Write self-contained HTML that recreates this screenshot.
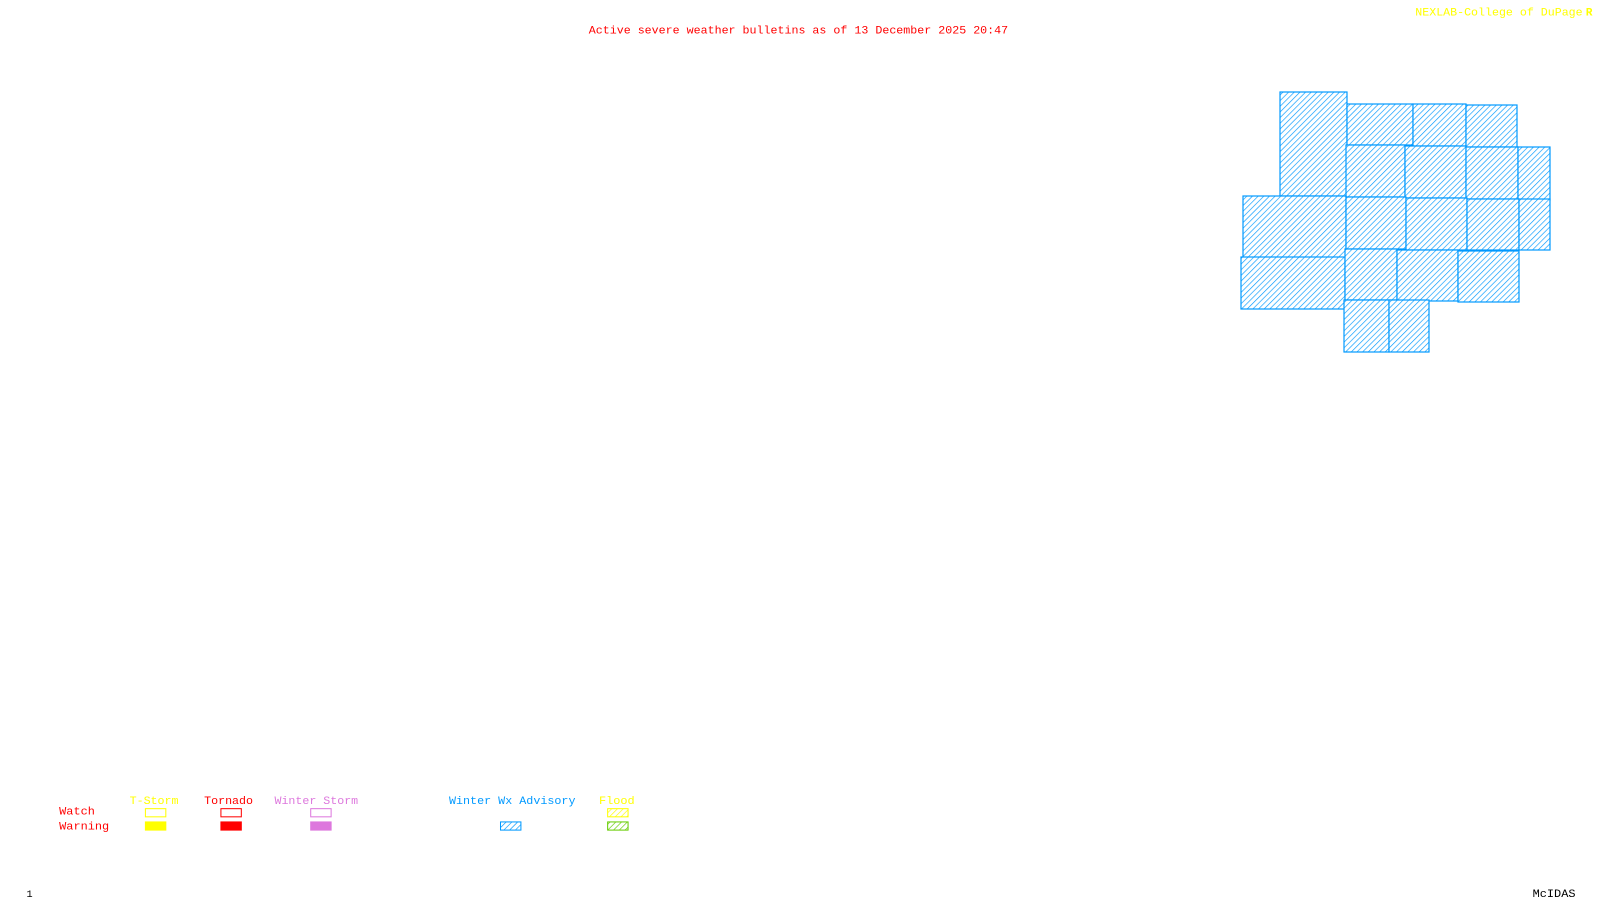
<!DOCTYPE html>
<html><head><meta charset="utf-8"><style>html,body{margin:0;padding:0;background:#fff;width:1600px;height:900px;overflow:hidden}</style></head>
<body>
<svg width="1600" height="900" viewBox="0 0 1600 900" xmlns="http://www.w3.org/2000/svg">
<defs>
<pattern id="hb" width="4" height="4" patternUnits="userSpaceOnUse" patternTransform="rotate(45)"><rect width="4" height="4" fill="#fff"/><line x1="0" y1="0" x2="0" y2="4" stroke="#0099ff" stroke-width="1.3"/></pattern>
<pattern id="hy" width="4" height="4" patternUnits="userSpaceOnUse" patternTransform="rotate(45)"><rect width="4" height="4" fill="#fff"/><line x1="0" y1="0" x2="0" y2="4" stroke="#ffff00" stroke-width="1.3"/></pattern>
<pattern id="hg" width="4" height="4" patternUnits="userSpaceOnUse" patternTransform="rotate(45)"><rect width="4" height="4" fill="#fff"/><line x1="0" y1="0" x2="0" y2="4" stroke="#66cc00" stroke-width="1.3"/></pattern>
</defs>
<g fill="url(#hb)" stroke="#0099ff" stroke-width="1.2">
<rect x="1280" y="92" width="67" height="104"/>
<rect x="1347" y="104" width="66" height="41"/>
<rect x="1413" y="104" width="53" height="42"/>
<rect x="1466" y="105" width="51" height="42"/>
<rect x="1346" y="145" width="59" height="52"/>
<rect x="1405" y="146" width="61" height="52"/>
<rect x="1466" y="147" width="52" height="52"/>
<rect x="1518" y="147" width="32" height="53"/>
<rect x="1243" y="196" width="103" height="62"/>
<rect x="1346" y="197" width="60" height="52"/>
<rect x="1406" y="198" width="61" height="52"/>
<rect x="1467" y="199" width="52" height="51"/>
<rect x="1519" y="199" width="31" height="51"/>
<rect x="1241" y="257" width="104" height="52"/>
<rect x="1345" y="249" width="52" height="51"/>
<rect x="1397" y="250" width="61" height="51"/>
<rect x="1458" y="251" width="61" height="51"/>
<rect x="1344" y="300" width="45" height="52"/>
<rect x="1389" y="300" width="40" height="52"/>
</g>
<g transform="scale(1.0204)" font-family="'Liberation Mono', monospace" font-size="11">
<text x="577" y="33" fill="#ff0000" textLength="411" lengthAdjust="spacingAndGlyphs">Active severe weather bulletins as of 13 December 2025 20:47</text>
<text x="1387" y="15" fill="#ffff00" textLength="164" lengthAdjust="spacingAndGlyphs">NEXLAB-College of DuPage</text>
<text x="1554" y="15" fill="#ffff00" font-weight="bold" font-size="11">R</text>
<text x="127" y="788" fill="#ffff00" textLength="48" lengthAdjust="spacingAndGlyphs">T-Storm</text>
<text x="200" y="788" fill="#ff0000" textLength="48" lengthAdjust="spacingAndGlyphs">Tornado</text>
<text x="269" y="788" fill="#dd77dd" textLength="82" lengthAdjust="spacingAndGlyphs">Winter Storm</text>
<text x="440" y="788" fill="#0099ff" textLength="124" lengthAdjust="spacingAndGlyphs">Winter Wx Advisory</text>
<text x="587" y="788" fill="#ffff00" textLength="35" lengthAdjust="spacingAndGlyphs">Flood</text>
<text x="58" y="798" fill="#ff0000" textLength="35" lengthAdjust="spacingAndGlyphs">Watch</text>
<text x="58" y="813" fill="#ff0000" textLength="49" lengthAdjust="spacingAndGlyphs">Warning</text>
<rect x="142.5" y="792.5" width="20" height="8" fill="none" stroke="#ffff00"/>
<rect x="142" y="805" width="21" height="9" fill="#ffff00"/>
<rect x="216.5" y="792.5" width="20" height="8" fill="none" stroke="#ff0000"/>
<rect x="216" y="805" width="21" height="9" fill="#ff0000"/>
<rect x="304.5" y="792.5" width="20" height="8" fill="none" stroke="#dd77dd"/>
<rect x="304" y="805" width="21" height="9" fill="#dd77dd"/>
<rect x="490.5" y="805.5" width="20" height="8" fill="url(#hb)" stroke="#0099ff"/>
<rect x="595.5" y="792.5" width="20" height="8" fill="url(#hy)" stroke="#ffff00"/>
<rect x="595.5" y="805.5" width="20" height="8" fill="url(#hg)" stroke="#66cc00"/>
<text x="26" y="879" fill="#000" font-size="10">1</text>
<text x="1502" y="879" fill="#000" textLength="42" lengthAdjust="spacingAndGlyphs">McIDAS</text>
</g>
</svg>
</body></html>
